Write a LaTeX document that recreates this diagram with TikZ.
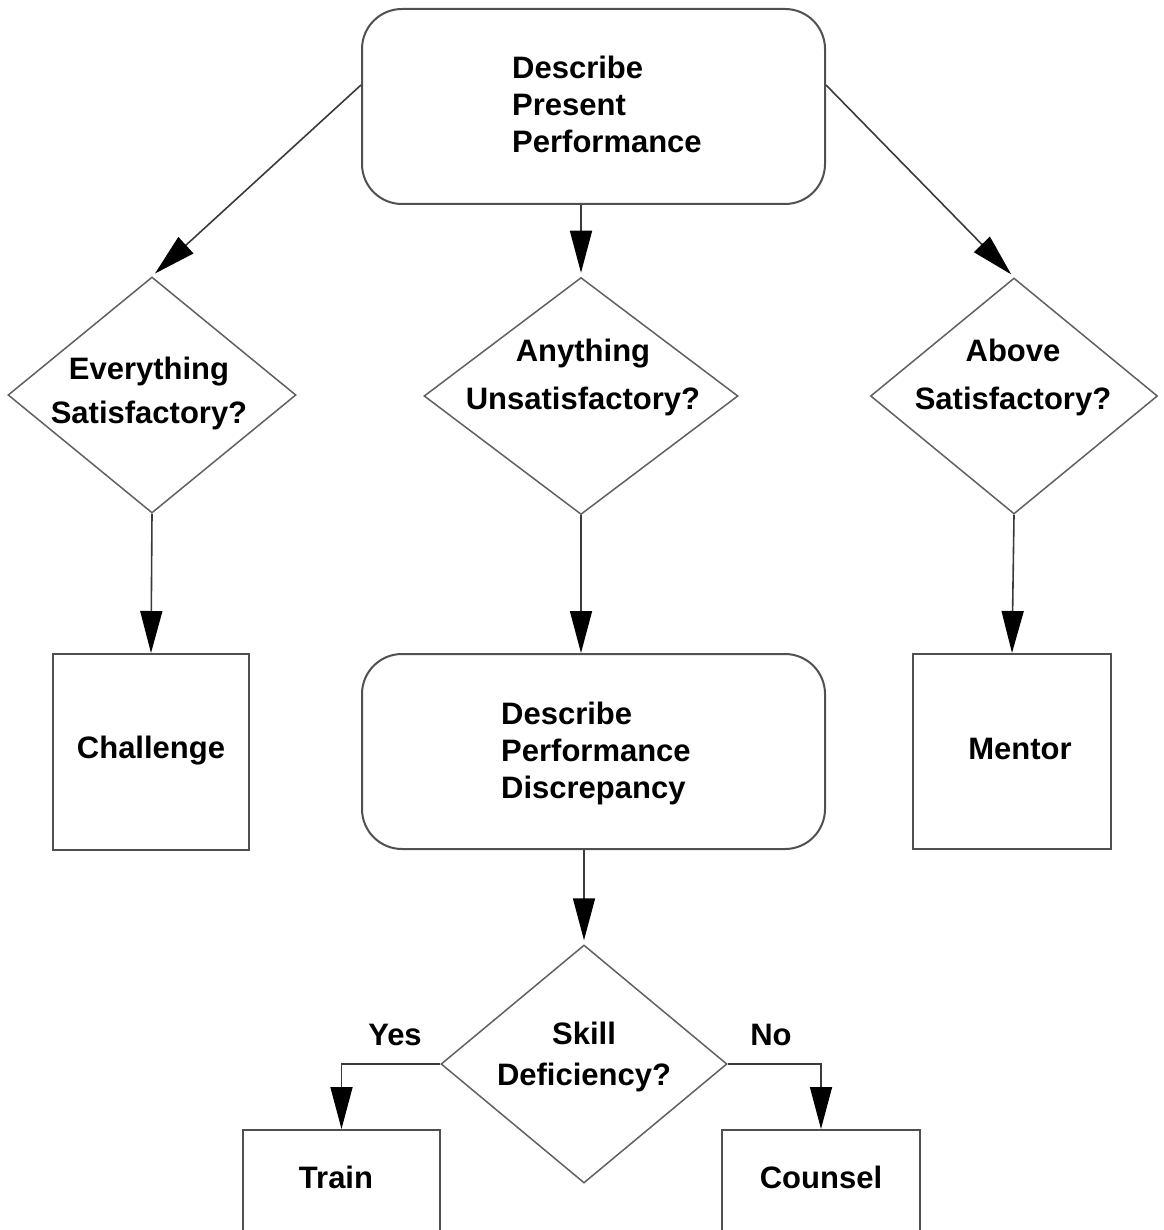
\documentclass[tikz,border=0pt]{standalone}
\usepackage{fontspec}
\setmainfont{Liberation Sans}
\usetikzlibrary{shapes.geometric,arrows.meta}
\definecolor{boxgray}{HTML}{505050}
\definecolor{diagray}{HTML}{606060}
\definecolor{linegray}{HTML}{3A3A3A}
\begin{document}
\begin{tikzpicture}[x=1pt,y=-1pt,
  lbl/.style={font=\bfseries\fontsize{31}{37}\selectfont, inner sep=0pt, text=black},
  rbox/.style={draw=boxgray, line width=2pt, rounded corners=40pt},
  sbox/.style={draw=boxgray, line width=2pt, inner sep=0pt},
  decision/.style={diamond, draw=diagray, line width=1.5pt, inner sep=0pt},
  flow/.style={draw=linegray, line width=1.6pt,
    -{Triangle[length=42pt,width=22pt,color=black]}},
  todiamond/.style={flow, shorten >=4pt}]
\useasboundingbox (0,0) rectangle (1163,1230);

% shapes
\node[rbox, minimum width=463pt, minimum height=195pt] (present) at (593.5,106.5) {};
\node[decision, minimum width=288pt, minimum height=236pt] (everything) at (152,395) {};
\node[decision, minimum width=314pt, minimum height=237pt] (anything) at (581,396) {};
\node[decision, minimum width=287pt, minimum height=236pt] (above) at (1014,396) {};
\node[sbox, minimum width=196pt, minimum height=196pt] (challenge) at (151,752) {};
\node[rbox, minimum width=463pt, minimum height=195pt] (discrepancy) at (593.5,751.5) {};
\node[sbox, minimum width=198pt, minimum height=195pt] (mentor) at (1012,751.5) {};
\node[decision, minimum width=286pt, minimum height=238pt] (skill) at (584,1064) {};
\node[sbox, minimum width=197pt, minimum height=110pt] (train) at (341.5,1185) {};
\node[sbox, minimum width=198pt, minimum height=110pt] (counsel) at (821,1185) {};

% texts (base anchor sits on the last line)
\node[lbl, align=left, anchor=base west] (present-t) at (512,153) {Describe\\Present\\Performance};
\node[lbl, align=left, anchor=base west] (discrepancy-t) at (501,798) {Describe\\Performance\\Discrepancy};
\node[lbl, align=center, anchor=base, font=\bfseries\fontsize{31}{44}\selectfont] (everything-t) at (149,423) {Everything\\Satisfactory?};
\node[lbl, align=center, anchor=base, font=\bfseries\fontsize{31}{48}\selectfont] (anything-t) at (583,409) {Anything\\Unsatisfactory?};
\node[lbl, align=center, anchor=base, font=\bfseries\fontsize{31}{48}\selectfont] (above-t) at (1013,409) {Above\\Satisfactory?};
\node[lbl, align=center, anchor=base, font=\bfseries\fontsize{31}{41}\selectfont] (skill-t) at (584,1085) {Skill\\Deficiency?};
\node[lbl, anchor=base] (challenge-t) at (151,758) {Challenge};
\node[lbl, anchor=base] (mentor-t) at (1020,759) {Mentor};
\node[lbl, anchor=base] (train-t) at (336,1188) {Train};
\node[lbl, anchor=base] (counsel-t) at (821,1188) {Counsel};
\node[lbl, anchor=base] (yes) at (395,1045) {Yes};
\node[lbl, anchor=base] (no) at (771,1045) {No};

% connectors
\draw[todiamond] ([yshift=21.5pt]present.west) -- (everything.north);
\draw[todiamond] (anything.north |- present.south) -- (anything.north);
\draw[todiamond] ([yshift=21.5pt]present.east) -- (above.north);
\draw[flow] (everything.south) -- (challenge.north);
\draw[flow] (anything.south) -- (anything.south |- discrepancy.north);
\draw[flow] (above.south) -- (mentor.north);
\draw[todiamond] (skill.north |- discrepancy.south) -- (skill.north);
\draw[flow] (skill.west) -| (train.north);
\draw[flow] (skill.east) -| (counsel.north);
\end{tikzpicture}
\end{document}
